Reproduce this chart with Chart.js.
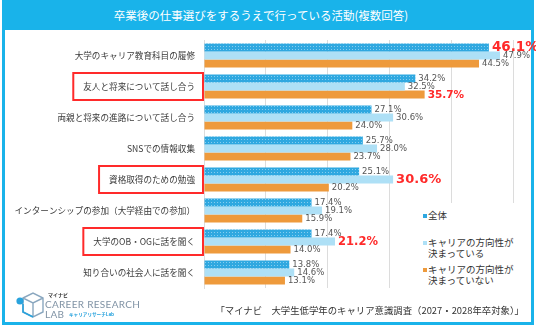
<!DOCTYPE html>
<html lang="ja">
<head>
<meta charset="utf-8">
<script src="https://cdn.jsdelivr.net/npm/chart.js@4.4.1/dist/chart.umd.min.js"></script>
<style>
  body { margin: 0; background: #fff; font-family: "Noto Sans CJK JP", "Noto Sans", sans-serif; }
  #wrap { position: relative; width: 536px; height: 326px; overflow: hidden; }
  #frame { position: absolute; left: 2px; top: 0; width: 532px; height: 325px; box-sizing: border-box; border: 3px solid #19b3ea; }
  #title { position: absolute; left: 2px; top: 0; width: 532px; height: 30px; background: #19b3ea; color: #fff;
           font-size: 11.5px; line-height: 30px; text-align: center; padding-right: 14px; box-sizing: border-box; }
  #c { position: absolute; left: 0; top: 0; }
  #legend { position: absolute; left: 400px; top: 203px; width: 128px; height: 88px; background: #fff; }
  .li { position: absolute; left: 28px; font-size: 9.5px; line-height: 11px; color: #333; white-space: nowrap; }
  .sw { position: absolute; left: -5px; top: 4px; width: 4px; height: 4px; }
  #logo { position: absolute; left: 15px; top: 290px; width: 140px; height: 32px; white-space: nowrap; }
  #logo .en { position: absolute; left: 30px; font-family: Lato, "Open Sans", sans-serif; font-size: 10px; line-height: 11px; color: #8093a5; letter-spacing: 0.3px; }
  #source { position: absolute; right: 12px; top: 303px; font-size: 9.4px; color: #333; white-space: nowrap; }
</style>
</head>
<body>
<div id="wrap">
  <div id="frame"></div>
  <div id="title">卒業後の仕事選びをするうえで行っている活動(複数回答)</div>
  <canvas id="c" width="536" height="326"></canvas>
  <div id="legend"></div>
  <div id="logo">
    <svg width="30" height="30" viewBox="0 0 30 30" style="position:absolute;left:0;top:2px">
      <path d="M8 6 L18 1 L28 6 L28 20 L18 25 L8 20 Z M8 6 L18 11 L28 6 M18 11 L18 25" fill="none" stroke="#8aa7bf" stroke-width="1.4"/>
      <path d="M8 12 L8 20 L18 25" fill="none" stroke="#29a3dd" stroke-width="1.6"/>
      <circle cx="5" cy="9" r="3.6" fill="#29a3dd"/>
    </svg>
    <div style="position:absolute;left:33px;top:2px;font-size:5px;font-weight:bold;color:#333;line-height:6px">マイナビ</div>
    <div class="en" style="top:9px">CAREER RESEARCH</div>
    <div class="en" style="top:19px">LAB</div>
    <div style="position:absolute;left:54px;top:21px;font-size:4.6px;font-weight:bold;color:#29a3dd;line-height:6px">キャリアリサーチLab</div>
  </div>
  <div id="source">「マイナビ　大学生低学年のキャリア意識調査（2027・2028年卒対象）」</div>
</div>
<script>
const categories = [
  '大学のキャリア教育科目の履修',
  '友人と将来について話し合う',
  '両親と将来の進路について話し合う',
  'SNSでの情報収集',
  '資格取得のための勉強',
  'インターンシップの参加（大学経由での参加）',
  '大学のOB・OGに話を聞く',
  '知り合いの社会人に話を聞く'
];
const seriesNames = ['全体', 'キャリアの方向性が\n決まっている', 'キャリアの方向性が\n決まっていない'];
const allStudents  = [46.1, 34.2, 27.1, 25.7, 25.1, 17.4, 17.4, 13.8];
const decided      = [47.9, 32.5, 30.6, 28.0, 30.6, 19.1, 21.2, 14.6];
const undecided    = [44.5, 35.7, 24.0, 23.7, 20.2, 15.9, 14.0, 13.1];
const xTicks = [0, 10, 20, 30, 40, 50];

// highlighted items: boxed category labels, red value labels [dataset, index, size]
const boxedCategories = [1, 4, 6];
const redValues = [[0, 0, 13.5], [2, 1, 10.5], [1, 4, 13], [1, 6, 11.5]];

const COLORS = {
  all: '#2fa8e0',
  allDot: '#86cdef',
  decided: '#aee0f6',
  undecided: '#ee9a3c',
  grid: '#dcdcdc',
  label: '#3a3a3a',
  value: '#555555',
  red: '#ff2a2a'
};

function dotPattern() {
  const t = document.createElement('canvas');
  t.width = 3; t.height = 3;
  const g = t.getContext('2d');
  g.fillStyle = COLORS.all;
  g.fillRect(0, 0, 3, 3);
  g.fillStyle = COLORS.allDot;
  g.fillRect(1, 1, 1, 1);
  return document.getElementById('c').getContext('2d').createPattern(t, 'repeat');
}

// legend
const swatches = [COLORS.all, COLORS.decided, COLORS.undecided];
const legendTops = [7, 34, 61];
const legend = document.getElementById('legend');
seriesNames.forEach((name, i) => {
  const d = document.createElement('div');
  d.className = 'li';
  d.style.top = legendTops[i] + 'px';
  d.innerHTML = '<span class="sw" style="background:' + swatches[i] + '"></span>' + name.replace('\n', '<br>');
  legend.appendChild(d);
});

const LABEL_SIZE = 8.6;
const FONT_LABEL = LABEL_SIZE + 'px "Noto Sans CJK JP", sans-serif';

const valueLabels = {
  id: 'valueLabels',
  afterDatasetsDraw(chart) {
    const ctx = chart.ctx;
    ctx.save();
    ctx.textBaseline = 'middle';
    ctx.textAlign = 'left';
    chart.data.datasets.forEach((ds, di) => {
      chart.getDatasetMeta(di).data.forEach((bar, i) => {
        const red = redValues.find(r => r[0] === di && r[1] === i);
        if (red) {
          ctx.fillStyle = COLORS.red;
          ctx.font = 'bold ' + red[2] + 'px "DejaVu Sans", sans-serif';
        } else {
          ctx.fillStyle = COLORS.value;
          ctx.font = '8.5px "DejaVu Sans", sans-serif';
        }
        ctx.fillText(ds.data[i].toFixed(1) + '%', bar.x + 3, bar.y + 0.5);
      });
    });
    ctx.restore();
  }
};

const labelBoxes = {
  id: 'labelBoxes',
  afterDraw(chart) {
    const ctx = chart.ctx;
    const y = chart.scales.y;
    ctx.save();
    ctx.font = FONT_LABEL;
    ctx.strokeStyle = COLORS.red;
    ctx.lineWidth = 2;
    boxedCategories.forEach(i => {
      const cy = y.getPixelForValue(i);
      const w = ctx.measureText(categories[i]).width;
      const right = chart.chartArea.left - 1;
      const left = right - 9 - w - 9;
      ctx.strokeRect(left, cy - 13.5, right - left, 27);
    });
    ctx.restore();
  }
};

new Chart(document.getElementById('c'), {
  type: 'bar',
  data: {
    labels: categories,
    datasets: [
      { label: seriesNames[0], data: allStudents, backgroundColor: dotPattern() },
      { label: seriesNames[1], data: decided, backgroundColor: COLORS.decided },
      { label: seriesNames[2], data: undecided, backgroundColor: COLORS.undecided }
    ]
  },
  options: {
    indexAxis: 'y',
    responsive: false,
    animation: false,
    layout: { padding: { left: 0, top: 40, right: 23, bottom: 38 } },
    datasets: { bar: { categoryPercentage: 0.78, barPercentage: 1.0, borderWidth: 0 } },
    plugins: { legend: { display: false }, tooltip: { enabled: false } },
    scales: {
      x: {
        min: xTicks[0],
        max: xTicks[xTicks.length - 1],
        afterBuildTicks: s => { s.ticks = xTicks.map(v => ({ value: v })); },
        ticks: { display: false },
        grid: { color: COLORS.grid, drawTicks: false, lineWidth: 1 },
        border: { display: false }
      },
      y: {
        afterFit: s => { s.width = 204; },
        ticks: { color: COLORS.label, font: { family: '"Noto Sans CJK JP", sans-serif', size: LABEL_SIZE }, padding: 9, autoSkip: false },
        grid: { display: false, drawTicks: false },
        border: { color: COLORS.grid }
      }
    }
  },
  plugins: [valueLabels, labelBoxes]
});
</script>
</body>
</html>
